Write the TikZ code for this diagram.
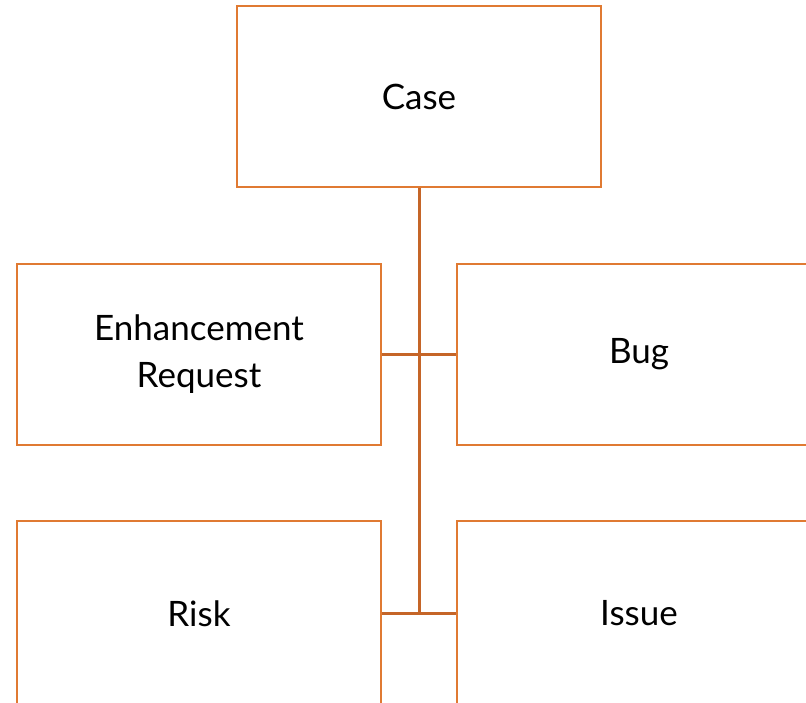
\documentclass[tikz,border=0pt]{standalone}
\usepackage{fontspec}
\setmainfont{Lato}
\usetikzlibrary{positioning}

\definecolor{boxorange}{RGB}{224,122,50}
\definecolor{linkorange}{RGB}{197,101,40}

\tikzset{
  casebox/.style={draw=boxorange, line width=2.5pt, fill=white,
    minimum width=364pt, minimum height=181pt, inner sep=0pt,
    align=center, font=\fontsize{35}{47}\selectfont},
  link/.style={draw=linkorange, line width=3pt}
}

\begin{document}
\begin{tikzpicture}[x=1pt, y=1pt]

  \useasboundingbox (0,0) rectangle (806,-702);
  \clip (0,0) rectangle (806,-702);

  % top level
  \node[casebox] (case) at (419,-96.5) {Case};

  % children
  \node[casebox] (enhancement) at (199,-354.5) {Enhancement\\Request};
  \node[casebox, right=73.5pt of enhancement] (bug) {Bug};
  \node[casebox, minimum height=185pt] (risk) at (199,-613.5) {Risk};
  \node[casebox, minimum height=185pt, right=73.5pt of risk] (issue) {Issue};

  % junction on the trunk
  \coordinate (trunk-end) at (case.south |- risk.east);

  % links
  \draw[link] (case.south) to (trunk-end);
  \draw[link] (enhancement.east) to (bug.west);
  \draw[link] (risk.east) to (issue.west);

\end{tikzpicture}
\end{document}
